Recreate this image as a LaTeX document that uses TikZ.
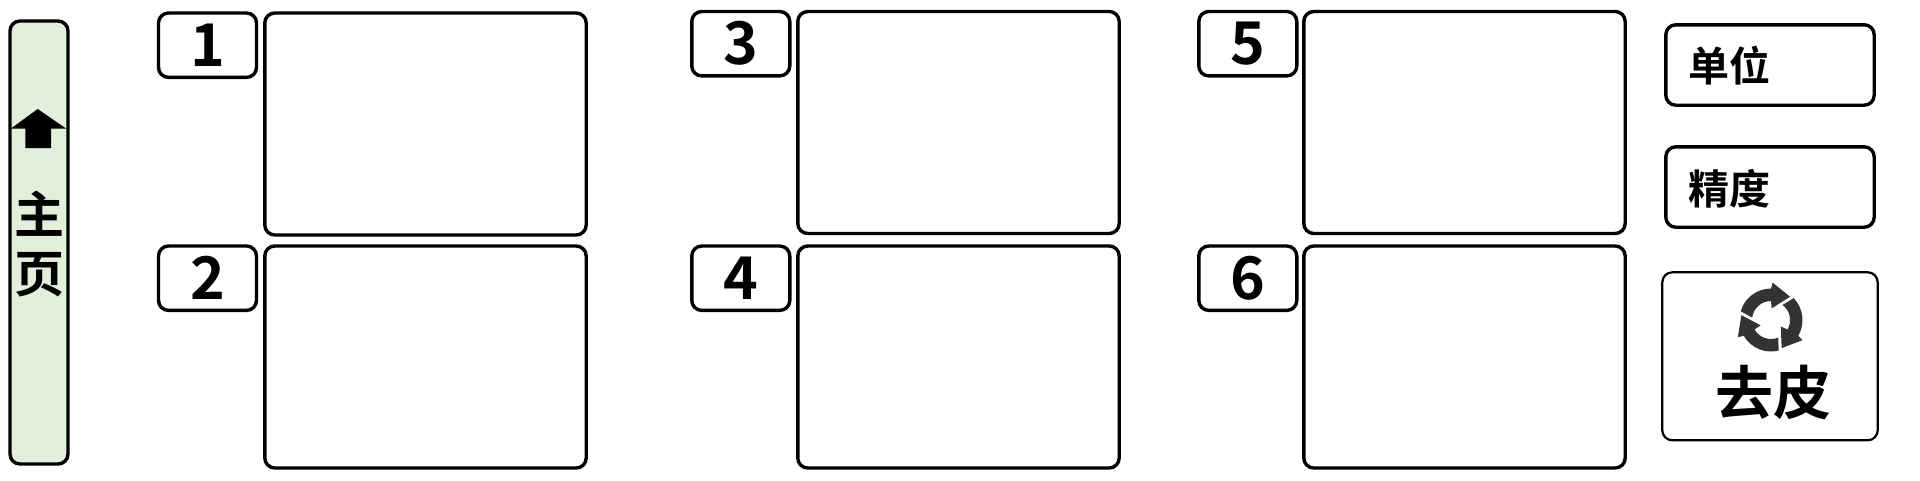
\documentclass[tikz,border=0pt]{standalone}
\usepackage{fontspec}
\setmainfont{Noto Sans CJK SC}[BoldFont={* Bold}]
\definecolor{sidegreen}{HTML}{E2EFDA}
\definecolor{icongrey}{HTML}{333333}
\tikzset{
  panel/.style={draw=black,line width=3.4pt,rounded corners=10pt,fill=white,inner sep=0pt,outer sep=0pt,anchor=north west},
  bigbox/.style={panel,minimum width=321.4pt,minimum height=222pt},
  numbox/.style={panel,minimum width=98pt,minimum height=64.4pt,font=\fontsize{59}{59}\selectfont\bfseries,text height=42pt,text depth=-10pt},
  optbox/.style={panel,minimum width=208.4pt,minimum height=80.4pt},
  sidebox/.style={panel,fill=sidegreen,minimum width=58pt,minimum height=443pt},
  label/.style={inner sep=0pt,outer sep=0pt},
  sidetext/.style={label,font=\fontsize{50}{50}\selectfont\bfseries},
  opttext/.style={label,font=\fontsize{41}{41}\selectfont\bfseries},
}
\begin{document}
\begin{tikzpicture}[x=1pt,y=-1pt]
\useasboundingbox (0,0) rectangle (1920,480);
\node[sidebox] (home) at (10,21) {};
\fill (37.7,109) -- (66,128.5) -- (51,128.5) -- (51,148) -- (25.3,148) -- (25.3,128.5) -- (11,128.5) -- cycle;
\node[sidetext] (zhu) at (39,214) {主};
\node[sidetext] (ye) at (39,275) {页};
% column 1
\node[numbox] (n1) at (158.5,13) {1};
\node[bigbox] (b1) at (264.8,13) {};
\node[numbox] (n2) at (158.5,246) {2};
\node[bigbox] (b2) at (264.8,246) {};
% column 2
\node[numbox] (n3) at (691.8,11.5) {3};
\node[bigbox] (b3) at (797.8,11.5) {};
\node[numbox] (n4) at (691.8,246) {4};
\node[bigbox] (b4) at (797.8,246) {};
% column 3
\node[numbox] (n5) at (1198.8,11.5) {5};
\node[bigbox] (b5) at (1303.8,11.5) {};
\node[numbox] (n6) at (1198.8,246) {6};
\node[bigbox] (b6) at (1303.8,246) {};
% right column
\node[optbox] (unit) at (1665.8,24.8) {};
\node[opttext] (unittext) at (1729.5,66) {单位};
\node[optbox] (prec) at (1665.8,146.8) {};
\node[opttext] (prectext) at (1729,189) {精度};
\node[panel,line width=2.2pt,minimum width=215.4pt,minimum height=168pt] (tare) at (1662.3,272.3) {};
\foreach \r in {0,120,240}{
  \begin{scope}[shift={(1771,320)},yscale=-1,rotate=\r]
    \fill[icongrey] (164:31.5) arc[start angle=164,end angle=90,radius=31.5]
      -- (1.7,37.3) -- (19,23.3) -- (0.7,11.7) -- (0,19)
      arc[start angle=90,end angle=172.5,radius=19] -- cycle;
  \end{scope}
}
\node[label,font=\fontsize{58}{58}\selectfont\bfseries] (taretext) at (1773,393) {去皮};
\end{tikzpicture}
\end{document}
